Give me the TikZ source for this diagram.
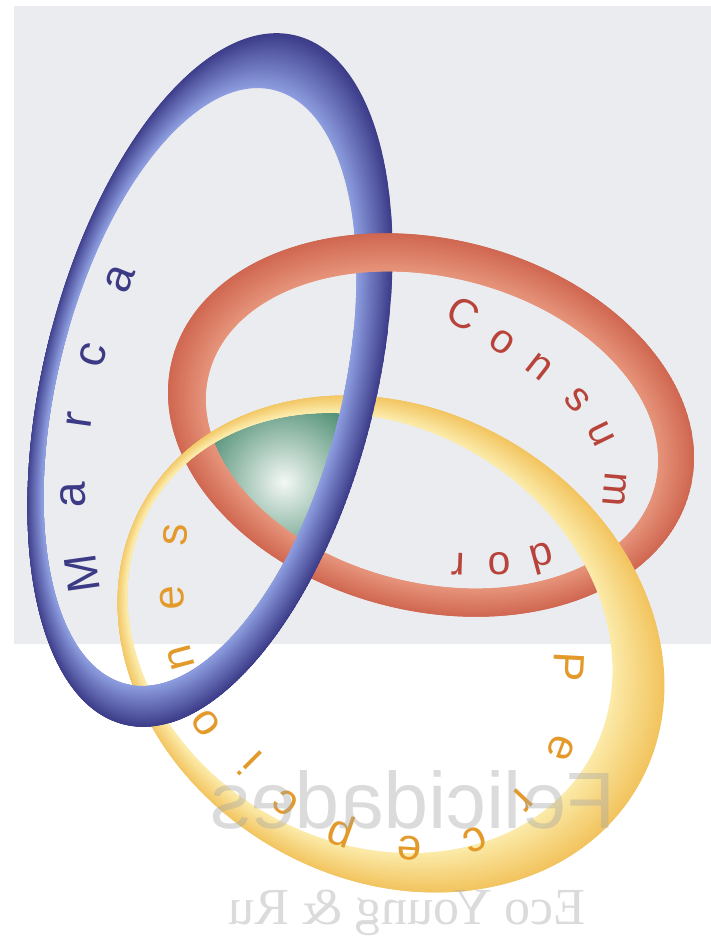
\documentclass[tikz,border=0pt]{standalone}
\usepackage{fontspec}
\setmainfont{Liberation Sans}
\newfontfamily\ghostserif{Liberation Serif}

\definecolor{paper}{HTML}{EAECEF}
\definecolor{marcaout}{HTML}{3A3987}
\definecolor{marcain}{HTML}{8C9CDE}
\definecolor{consout}{HTML}{CF654F}
\definecolor{consin}{HTML}{E6937A}
\definecolor{percout}{HTML}{F2C35C}
\definecolor{percin}{HTML}{FBEAA8}
\definecolor{lensgreen}{HTML}{2E7A5A}
\definecolor{lensglow}{HTML}{F4F8F5}
\definecolor{marcaink}{HTML}{3D3A85}
\definecolor{consink}{HTML}{B8433A}
\definecolor{percink}{HTML}{E39A2A}
\definecolor{ghostgray}{HTML}{A6A6A6}

% tube ring: outer centre, outer radii, inner centre, inner radii, rotation
\newcommand{\tubering}[9]{%
  \begin{scope}[even odd rule]
    \clip (#1,#2) circle [x radius=#3, y radius=#4, rotate=#9]
      (#5,#6) circle [x radius=#7, y radius=#8, rotate=#9];
    \foreach \k in {0,...,24}{%
      \pgfmathsetmacro{\cx}{#1+(#5-#1)*\k/24}
      \pgfmathsetmacro{\cy}{#2+(#6-#2)*\k/24}
      \pgfmathsetmacro{\rx}{#3+(#7-#3)*\k/24}
      \pgfmathsetmacro{\ry}{#4+(#8-#4)*\k/24}
      \pgfmathtruncatemacro{\mix}{100-100*\k/24}
      \draw[line width=3pt, tubeout!\mix!tubein] (\cx,\cy) circle [x radius=\rx, y radius=\ry, rotate=#9];
    }
  \end{scope}}
\newcommand{\marcaring}{\colorlet{tubeout}{marcaout}\colorlet{tubein}{marcain}%
  \tubering{210}{380}{166}{355}{200}{387}{142}{306}{-14}}
\newcommand{\consring}{\colorlet{tubeout}{consout}\colorlet{tubein}{consin}%
  \tubering{431}{425}{267}{186}{432}{430}{230}{153}{-14}}
\newcommand{\percring}{\colorlet{tubeout}{percout}\colorlet{tubein}{percin}%
  \tubering{391}{644}{285}{235}{370}{633}{253}{208}{-30}}

\begin{document}
\begin{tikzpicture}[x=1pt, y=-1pt,
    ringletter/.style={inner sep=0pt, font=\fontsize{44}{44}\selectfont},
    marcaletter/.style={ringletter, text=marcaink, font=\fontsize{46}{46}\selectfont},
    consletter/.style={ringletter, text=consink, font=\fontsize{41}{41}\selectfont},
    percletter/.style={ringletter, text=percink},
    ghost/.style={inner sep=0pt, text=ghostgray, text opacity=0.4, xscale=-1}
]
\useasboundingbox (0,0) rectangle (711,951);
\fill[white] (0,0) rectangle (711,951);
\fill[paper] (14,6) rectangle (711,644);

% green lens where the three holes meet
\begin{scope}
  \clip (200,387) circle [x radius=142, y radius=306, rotate=-14];
  \clip (432,430) circle [x radius=230, y radius=153, rotate=-14];
  \clip (370,633) circle [x radius=253, y radius=208, rotate=-30];
  \shade[inner color=lensglow, outer color=lensgreen] (284,482) circle [radius=105];
\end{scope}

% rings
\marcaring
\consring
\percring
\begin{scope}
  \clip (0,330) rectangle (711,951);
  \marcaring
\end{scope}

% labels
\foreach \ch/\x/\y/\r [count=\i] in {M/82/574/98, a/73/495/91, r/79/420/82, c/93/355/74, a/120/279/68}
  \node[marcaletter, rotate=\r] (marca\i) at (\x,\y) {\ch};
\foreach \ch/\x/\y/\r [count=\i] in {C/463/314/-30, o/502/342/-35, n/539/367/-38, s/577/400/-48,
    u/601/434/-64, m/615/489/-95, d/542/559/-165, o/499/564/-178, r/458/564/178}
  \node[consletter, rotate=\r] (cons\i) at (\x,\y) {\ch};
\foreach \ch/\x/\y/\r [count=\i] in {P/569/667/-93, e/561/748/-111, r/522/800/-133, c/475/840/-156,
    e/409/848/176, p/342/830/160, c/286/803/143, i/250/763/135, o/206/723/125,
    n/181/658/105, e/172/598/93, s/175/535/87}
  \node[percletter, rotate=\r] (perc\i) at (\x,\y) {\ch};

% text showing through from the back
\node[ghost, font=\fontsize{80}{80}\selectfont] (felicidades) at (413,800) {Felicidades};
\node[ghost, font=\ghostserif\fontsize{52}{52}\selectfont] (ecoyoung) at (407,913) {Eco Young \& Ru};
\end{tikzpicture}
\end{document}
